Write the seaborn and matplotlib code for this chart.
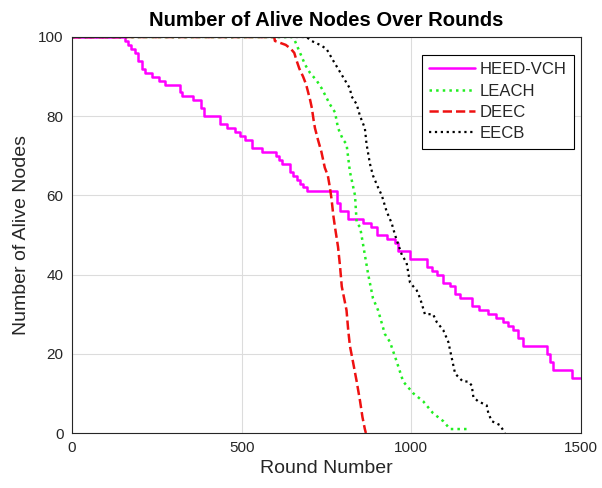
import pandas as pd
import seaborn as sns
import matplotlib.pyplot as plt

# HEED-VCH
heed_rounds = [0, 156, 165, 175, 185, 195, 205, 215, 235, 255, 274, 318, 325, 357, 380, 390,
               436, 456, 480, 495, 510, 529, 559, 600, 610, 618, 642, 652, 662, 672, 682, 692,
               775, 782, 790, 814, 858, 880, 898, 927, 952, 961, 996, 1045, 1060, 1075, 1094,
               1114, 1130, 1143, 1178, 1200, 1226, 1250, 1270, 1285, 1300, 1315, 1329, 1399,
               1410, 1418, 1473, 1500]
heed_alive = [100, 99, 98, 97, 96, 94, 92, 91, 90, 89, 88, 86, 85, 84, 82, 80,
              78, 77, 76, 75, 74, 72, 71, 70, 69, 68, 66, 65, 64, 63, 62, 61,
              61, 58, 56, 54, 53, 52, 50, 49, 48, 46, 44, 42, 41, 40, 38,
              37, 35, 34, 32, 31, 30, 29, 28, 27, 26, 24, 22, 20,
              18, 16, 14, 14]

# LEACH
leach_rounds = [0, 650, 657, 672, 687, 701, 721, 736, 760, 775, 784, 799, 809, 819, 834, 839, 849,
                863, 873, 887, 902, 922, 937, 957, 976, 1006, 1035, 1064, 1094, 1114, 1173]
leach_alive = [100, 100, 99, 96, 93, 91, 89, 87, 83, 81, 77, 74, 73, 66, 60, 53, 52,
               45, 40, 34, 31, 25, 23, 18, 13, 10, 8, 5, 3, 1, 1]

# DEEC
deec_rounds = [0, 596, 598, 630, 645, 655, 662, 670, 681, 690, 696, 702, 707, 712, 716, 725, 735,
               745, 754, 760, 765, 770, 775, 784, 790, 795, 802, 809, 814, 819, 828, 839,
               849, 856, 863, 866]
deec_alive = [100, 100, 99, 98, 97, 96, 94, 92, 90, 88, 86, 84, 82, 79, 77, 74, 71,
              67, 65, 62, 59, 55, 52, 47, 42, 37, 34, 31, 26, 22, 18, 13,
              8, 4, 1, 0]

# EECB
eecb_rounds = [0, 691, 706, 731, 750, 770, 784, 805, 819, 824, 839, 849, 863, 868, 878, 887,
               902, 913, 927, 942, 952, 972, 986, 996, 1016, 1026, 1040, 1064, 1075, 1094,
               1109, 1119, 1129, 1152, 1168, 1178, 1183, 1197, 1222, 1227, 1237, 1261, 1276]
eecb_alive = [100, 100, 99, 98, 97, 94, 92, 89, 87, 85, 83, 80, 77, 73, 68, 65,
              62, 60, 56, 53, 50, 45, 43, 38, 36, 34, 30, 30, 28, 26,
              23, 19, 15, 13, 13, 12, 9, 8, 7, 5, 3, 2, 0]

series = [
    ("HEED-VCH", heed_rounds, heed_alive, "#ff00ff", "-", 1.8, "steps-post"),
    ("LEACH", leach_rounds, leach_alive, "#22ee22", ":", 1.8, "default"),
    ("DEEC", deec_rounds, deec_alive, "#ee1111", "--", 1.8, "default"),
    ("EECB", eecb_rounds, eecb_alive, "black", ":", 1.6, "default"),
]

sns.set_style("white")
plt.rcParams["font.family"] = ["Liberation Sans", "DejaVu Sans"]

fig = plt.figure(figsize=(6.02, 4.88), dpi=100)
ax = fig.add_axes([0.1196, 0.1127, 0.8455, 0.8115])

for nombre, x, y, color, ls, lw, ds in series:
    df = pd.DataFrame({"Round": x, "Alive": y})
    sns.lineplot(data=df, x="Round", y="Alive", ax=ax, color=color, linestyle=ls,
                 linewidth=lw, drawstyle=ds, label=nombre, estimator=None, sort=False)

ax.set_xlim(0, 1500)
ax.set_ylim(0, 100)
ax.set_xticks([0, 500, 1000, 1500])
ax.set_yticks([0, 20, 40, 60, 80, 100])
ax.grid(True, color="#dcdcdc", linewidth=0.8)
ax.tick_params(direction="in", labelsize=11, length=4, colors="#262626", pad=6)
for s in ax.spines.values():
    s.set_color("#262626")
    s.set_linewidth(0.8)

ax.set_title("Number of Alive Nodes Over Rounds", fontsize=14.6, fontweight="bold", pad=8,
             color="black")
ax.set_xlabel("Round Number", fontsize=14, color="#262626", labelpad=3)
ax.set_ylabel("Number of Alive Nodes", fontsize=14, color="#262626", labelpad=6)

leg = ax.legend(loc="upper left", bbox_to_anchor=(0.687, 0.955), fontsize=12,
                fancybox=False, framealpha=1, edgecolor="black", handlelength=2.75,
                handletextpad=0.25, labelspacing=0.38, borderpad=0.45, borderaxespad=0)
leg.get_frame().set_linewidth(0.8)

fig.savefig("out.png", dpi=100)
